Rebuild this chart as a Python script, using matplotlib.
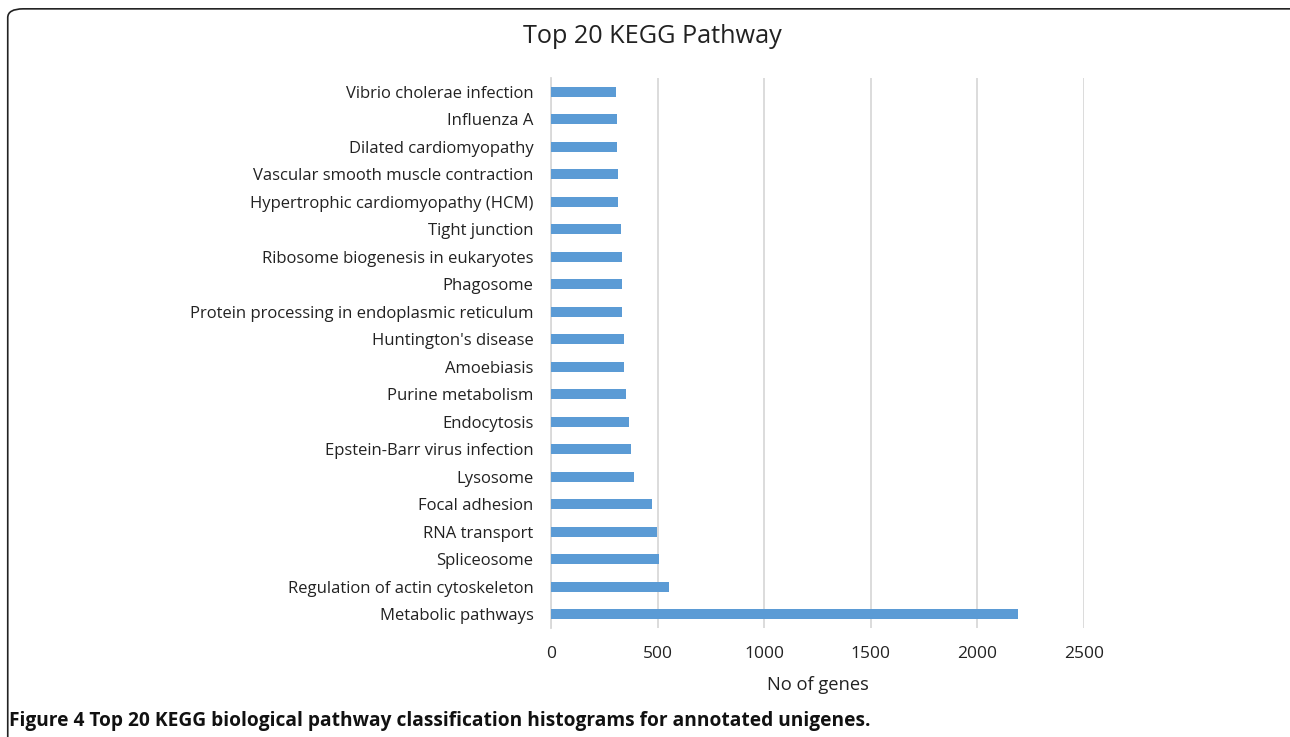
import matplotlib
matplotlib.use("Agg")
import matplotlib.pyplot as plt
from matplotlib.patches import FancyBboxPatch

categories = [
    "Vibrio cholerae infection", "Influenza A", "Dilated cardiomyopathy",
    "Vascular smooth muscle contraction", "Hypertrophic cardiomyopathy (HCM)",
    "Tight junction", "Ribosome biogenesis in eukaryotes", "Phagosome",
    "Protein processing in endoplasmic reticulum", "Huntington's disease",
    "Amoebiasis", "Purine metabolism", "Endocytosis", "Epstein-Barr virus infection",
    "Lysosome", "Focal adhesion", "RNA transport", "Spliceosome",
    "Regulation of actin cytoskeleton", "Metabolic pathways",
]
values = [306, 308, 311, 313, 316, 328, 331, 331, 333, 344,
          344, 353, 366, 374, 391, 475, 497, 506, 555, 2190]
xticks = [0, 500, 1000, 1500, 2000, 2500]

plt.rcParams['font.family'] = ['Open Sans', 'DejaVu Sans']

fig = plt.figure(figsize=(12.9, 7.37), dpi=100)
ax = fig.add_axes([0.4271, 0.1479, 0.4132, 0.7463])

ypos = [len(categories) - 1 - i for i in range(len(categories))]
ax.barh(ypos, values, height=0.37, color="#5B9BD5", zorder=3)
ax.set_ylim(-0.5, len(categories) - 0.5)
ax.set_xlim(0, 2500)
ax.set_xticks(xticks)
ax.set_xticklabels([str(t) for t in xticks], fontsize=12.5, color="#222222")
ax.set_yticks(ypos)
ax.set_yticklabels(categories, fontsize=12, color="#222222")
ax.tick_params(axis='y', length=0, pad=12.5)
ax.tick_params(axis='x', length=0, pad=13)
ax.grid(axis='x', color="#D9D9D9", linewidth=1.3, zorder=0)
for s in ['top', 'right', 'bottom']:
    ax.spines[s].set_visible(False)
ax.spines['left'].set_color("#D9D9D9")
ax.spines['left'].set_linewidth(1.3)
ax.set_xlabel("No of genes", fontsize=13.2, color="#222222", labelpad=10)

fig.text(0.506, 0.951, "Top 20 KEGG Pathway", ha='center', va='center', fontsize=18.2, color="#222222")
fig.text(0.007, 0.022, "Figure 4 Top 20 KEGG biological pathway classification histograms for annotated unigenes.",
         ha='left', va='center', fontsize=13.8, fontweight='bold', color="#111111")

box = FancyBboxPatch((0.006, -0.05), 1.2, 1.038, boxstyle="round,pad=0,rounding_size=0.012",
                     transform=fig.transFigure, fill=False, edgecolor="#222222", linewidth=1.2)
fig.patches.append(box)

fig.savefig("out.png", dpi=100)
